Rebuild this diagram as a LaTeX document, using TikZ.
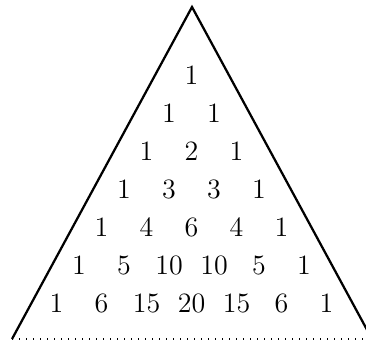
\documentclass[tikz,border=0pt]{standalone}
\begin{document}
\begin{tikzpicture}[x=0.4pt,y=-0.4pt,
  num/.style={inner sep=0pt,font=\fontsize{11.2}{13}\selectfont},
  edge/.style={line width=0.9pt,line join=miter},
  baseline dots/.style={line width=0.42pt,dash pattern=on 0.42pt off 2.38pt}]
\useasboundingbox (0,0) rectangle (366,341);
\coordinate (apex) at (192,7);
\coordinate (bl) at (12,339);
\coordinate (br) at (372,339);
\draw[edge] (bl) -- (apex) -- (br);
\draw[baseline dots] (bl) -- (br);
\foreach \n in {0,...,6}{
  \foreach \k in {0,...,\n}{
    \pgfmathtruncatemacro{\val}{factorial(\n)/(factorial(\k)*factorial(\n-\k))}
    \node[num] (p\n-\k) at ({191.5+(\k-\n/2)*45},{75+38*\n}) {\val};
  }
}
\end{tikzpicture}
\end{document}
